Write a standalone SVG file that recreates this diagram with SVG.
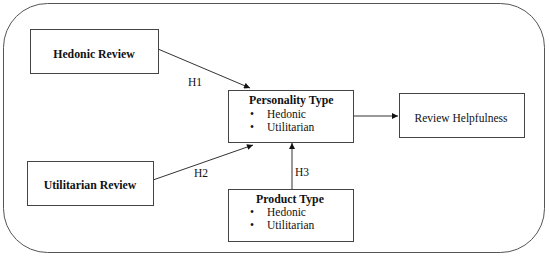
<svg xmlns="http://www.w3.org/2000/svg" width="550" height="256" viewBox="0 0 550 256">
<style>
.box{fill:#fff;stroke:#444;stroke-width:1}
.t{font-family:"Liberation Serif","Times New Roman",serif;font-size:11.5px;fill:#111}
.b{font-weight:bold;font-size:11.8px}
.c{stroke:#333;stroke-width:1;fill:none}
</style>
<defs>
<marker id="ah" viewBox="0 0 10 10" refX="10" refY="5" markerWidth="7" markerHeight="6" markerUnits="userSpaceOnUse" orient="auto">
<path d="M0,0 L10,5 L0,10 z" fill="#111"/>
</marker>
</defs>
<rect x="3.5" y="3.5" width="541" height="249" rx="44" ry="44" fill="#fff" stroke="#555" stroke-width="1"/>
<g id="connectors">
<line class="c" x1="158" y1="49" x2="250" y2="88" marker-end="url(#ah)"/>
<line class="c" x1="153" y1="180" x2="253" y2="145" marker-end="url(#ah)"/>
<line class="c" x1="292" y1="189" x2="292" y2="143" marker-end="url(#ah)"/>
<line class="c" x1="353" y1="116" x2="398" y2="116" marker-end="url(#ah)"/>
<text class="t" x="188" y="86">H1</text>
<text class="t" x="194" y="177">H2</text>
<text class="t" x="295" y="176">H3</text>
</g>
<g id="hedonic-review">
<rect class="box" x="30.5" y="29.5" width="128" height="44"/>
<text class="t b" x="94" y="58" text-anchor="middle">Hedonic Review</text>
</g>
<g id="utilitarian-review">
<rect class="box" x="27.5" y="161.5" width="126" height="44"/>
<text class="t b" x="90" y="189" text-anchor="middle">Utilitarian Review</text>
</g>
<g id="personality-type">
<rect class="box" x="228.5" y="90.5" width="125" height="52"/>
<text class="t b" x="249" y="104">Personality Type</text>
<text class="t" x="250" y="118">•</text>
<text class="t" x="267" y="118">Hedonic</text>
<text class="t" x="250" y="131">•</text>
<text class="t" x="267" y="131">Utilitarian</text>
</g>
<g id="product-type">
<rect class="box" x="228.5" y="189.5" width="125" height="52"/>
<text class="t b" x="290" y="203" text-anchor="middle">Product Type</text>
<text class="t" x="250" y="216">•</text>
<text class="t" x="267" y="216">Hedonic</text>
<text class="t" x="250" y="229">•</text>
<text class="t" x="267" y="229">Utilitarian</text>
</g>
<g id="review-helpfulness">
<rect class="box" x="399.5" y="93.5" width="125" height="44"/>
<text class="t" x="461" y="122" text-anchor="middle">Review Helpfulness</text>
</g>
</svg>
